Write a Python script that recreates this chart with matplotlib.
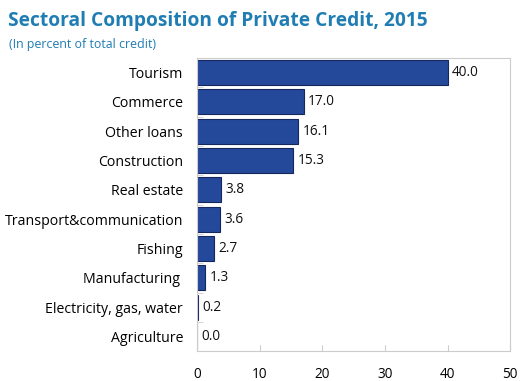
import matplotlib.pyplot as plt
import numpy as np

plt.rcParams['font.family'] = ['Open Sans', 'DejaVu Sans']

sectors = ['Tourism', 'Commerce', 'Other loans', 'Construction', 'Real estate',
           'Transport&communication', 'Fishing', 'Manufacturing ',
           'Electricity, gas, water', 'Agriculture']
shares = [40.0, 17.0, 16.1, 15.3, 3.8, 3.6, 2.7, 1.3, 0.2, 0.0]
xticks = [0, 10, 20, 30, 40, 50]

fig = plt.figure(figsize=(5.2, 3.81), dpi=100)
ax = fig.add_axes([0.379, 0.078, 0.602, 0.77])

y = np.arange(len(sectors))
ax.barh(y, shares, height=0.85, color='#24489a', edgecolor='#15285e', linewidth=0.8)
for yi, v in zip(y, shares):
    ax.text(v + 0.7, yi, f'{v:.1f}', va='center', ha='left', fontsize=9.8, color='#111111')

ax.set_ylim(len(sectors) - 0.5, -0.5)
ax.set_xlim(0, 50)
ax.set_yticks(y)
ax.set_yticklabels(sectors, fontsize=10.2)
ax.set_yticks(np.arange(len(sectors) + 1) - 0.5, minor=True)
ax.tick_params(axis='y', which='major', length=0, pad=10)
ax.tick_params(axis='y', which='minor', direction='in', length=4, color='#cccccc')
ax.set_xticks(xticks)
ax.set_xticklabels([str(t) for t in xticks], fontsize=9.8)
ax.tick_params(axis='x', direction='in', length=4, color='#cccccc', pad=11)
for s in ax.spines.values():
    s.set_color('#cccccc')
    s.set_linewidth(0.8)

fig.text(0.015, 0.945, 'Sectoral Composition of Private Credit, 2015', fontsize=13.8,
         fontweight='bold', color='#1f7db3', va='center')
fig.text(0.017, 0.883, '(In percent of total credit)', fontsize=8.9, color='#1f7db3', va='center')

fig.savefig('out.png', dpi=100)
